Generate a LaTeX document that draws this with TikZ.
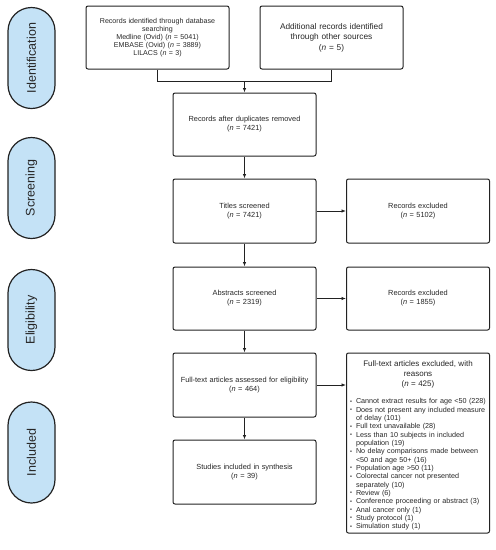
\documentclass[tikz,border=0pt]{standalone}
\usepackage{fontspec}
\setmainfont{Liberation Sans}
\usetikzlibrary{arrows.meta}
\definecolor{pillblue}{HTML}{C4E2F6}
\definecolor{edge}{HTML}{222222}
\newcommand{\bitem}[1]{\par\hangindent=6pt\hangafter=1\noindent\makebox[6pt][l]{\raisebox{0.6pt}{\fontsize{5.5}{5.5}\selectfont\textbullet}}#1}
\newcommand{\brk}{\hfil\break}
\begin{document}
\begin{tikzpicture}[x=1pt,y=-1pt,
  box/.style={draw=edge, line width=1pt, rounded corners=2pt, minimum width=143pt,
    minimum height=63pt, inner sep=2pt, align=center, text width=138pt,
    font=\fontsize{7.4}{9}\selectfont, text=black!85},
  pillbox/.style={draw=edge, line width=1.2pt, fill=pillblue, rounded corners=23.5pt,
    minimum width=101pt, minimum height=47pt, rotate=90, inner sep=0pt,
    font=\fontsize{12.5}{15}\selectfont, text=black!85},
  conn/.style={draw=edge, line width=0.8pt},
  arr/.style={conn, -{Latex[length=4.5pt,width=3.5pt]}}]
\useasboundingbox (0,0) rectangle (496,550);
% phase pills
\node[pillbox] (pid) at (31.5,58) {Identification};
\node[pillbox] (psc) at (31.5,188) {Screening};
\node[pillbox] (pel) at (31.5,320) {Eligibility};
\node[pillbox] (pin) at (31.5,452.5) {Included};
% boxes
\node[box, font=\fontsize{7.1}{8}\selectfont] (db) at (157.5,37.5) {Records identified through database\\ searching\\
  Medline (Ovid) (\textit{n} = 5041)\\ EMBASE (Ovid) (\textit{n} = 3889)\\ LILACS (\textit{n} = 3)};
\node[box, font=\fontsize{8.3}{10.5}\selectfont] (other) at (331.5,37.5) {Additional records identified\\ through other sources\\ (\textit{n} = 5)};
\node[box] (dup) at (244.5,124.5) {Records after duplicates removed\\ (\textit{n} = 7421)};
\node[box, minimum height=64pt] (titles) at (244.5,211) {Titles screened\\ (\textit{n} = 7421)};
\node[box, minimum height=64pt] (exc1) at (418,211) {Records excluded\\ (\textit{n} = 5102)};
\node[box] (abs) at (244.5,298.5) {Abstracts screened\\ (\textit{n} = 2319)};
\node[box] (exc2) at (418,298.5) {Records excluded\\ (\textit{n} = 1855)};
\node[box, minimum height=64pt] (full) at (244.5,385) {Full-text articles assessed for eligibility\\ (\textit{n} = 464)};
\node[box, minimum height=64pt] (incl) at (244.5,472) {Studies included in synthesis\\ (\textit{n} = 39)};
\node[box, minimum height=180pt] (exc3) at (418,443) {};
\node[anchor=north, inner sep=0pt, text width=136pt, align=left, text=black!85,
  font=\fontsize{7.2}{8.33}\selectfont] (exc3text) at ([yshift=-8pt]exc3.north)
  {{\centering\fontsize{8}{10}\selectfont Full-text articles excluded, with\\ reasons\\ (\textit{n} = 425)\par}
  \vspace{9pt}
  \bitem{Cannot extract results for age <50 (228)}
  \bitem{Does not present any included measure\brk of delay (101)}
  \bitem{Full text unavailable (28)}
  \bitem{Less than 10 subjects in included\brk population (19)}
  \bitem{No delay comparisons made between\brk <50 and age 50+ (16)}
  \bitem{Population age >50 (11)}
  \bitem{Colorectal cancer not presented\brk separately (10)}
  \bitem{Review (6)}
  \bitem{Conference proceeding or abstract (3)}
  \bitem{Anal cancer only (1)}
  \bitem{Study protocol (1)}
  \bitem{Simulation study (1)}};
% connectors
\coordinate (join) at (244.5,81);
\draw[conn] (db.south) |- (join);
\draw[conn] (other.south) |- (join);
\draw[arr] (join) -- (dup.north);
\draw[arr] (dup) -- (titles);
\draw[arr] (titles) -- (exc1);
\draw[arr] (titles) -- (abs);
\draw[arr] (abs) -- (exc2);
\draw[arr] (abs) -- (full);
\draw[arr] (full) -- (full -| exc3.west);
\draw[arr] (full) -- (incl);
\end{tikzpicture}
\end{document}
